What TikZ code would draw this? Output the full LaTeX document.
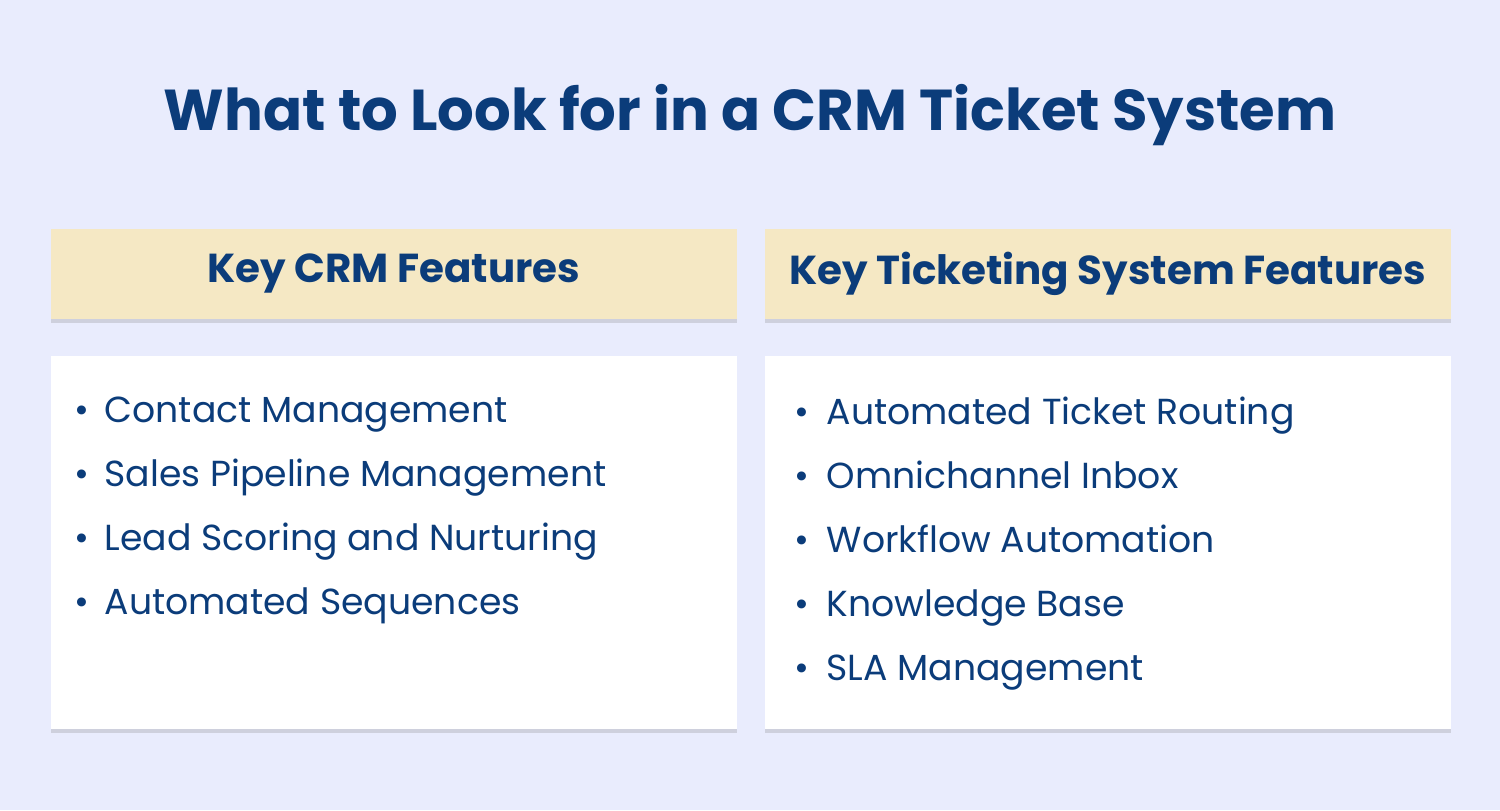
\documentclass[tikz,border=0pt]{standalone}
\usepackage{fontspec}
\setmainfont{Poppins}
\usetikzlibrary{shadows,positioning}
\definecolor{bgcol}{HTML}{E9ECFD}
\definecolor{navy}{HTML}{0B3C7A}
\definecolor{headcol}{HTML}{F5E8C4}
\tikzset{
  headbox/.style={fill=headcol, minimum width=6.86cm, minimum height=0.9cm, anchor=north west,
    drop shadow={shadow xshift=0pt, shadow yshift=-0.4mm, opacity=0.25}},
  listbox/.style={fill=white, minimum width=6.86cm, minimum height=3.73cm, anchor=north west,
    drop shadow={shadow xshift=0pt, shadow yshift=-0.4mm, opacity=0.25}},
  item/.style={text=navy, font=\fontsize{10.3}{12}\selectfont, anchor=west, inner sep=0pt,
    text height=1.6ex, text depth=0.45ex}
}
\begin{document}
\begin{tikzpicture}
\fill[bgcol] (0,0) rectangle (15,8.1);
\useasboundingbox (0,0) rectangle (15,8.1);
\node[text=navy, font=\fontsize{16.4}{19}\selectfont\bfseries] (title) at (7.5,6.95) {What to Look for in a CRM Ticket System};
% headers
\node[headbox] (crmhead) at (0.5,5.82) {};
\node[text=navy, font=\fontsize{11.5}{14}\selectfont\bfseries] at (crmhead) {Key CRM Features};
\node[headbox] (tickhead) at (7.64,5.82) {};
\node[text=navy, font=\fontsize{11.5}{14}\selectfont\bfseries] at (tickhead) {Key Ticketing System Features};
% lists
\node[listbox] (crmlist) at (0.5,4.55) {};
\node[listbox] (ticklist) at (7.64,4.55) {};
\foreach \txt [count=\i] in {Contact Management, Sales Pipeline Management, Lead Scoring and Nurturing, Automated Sequences}{
  \node[item] (crm\i) at (0.74,{3.99-(\i-1)*0.64}) {\makebox[0.3cm][l]{•}\txt};
}
\foreach \txt [count=\i] in {Automated Ticket Routing, Omnichannel Inbox, Workflow Automation, Knowledge Base, SLA Management}{
  \node[item] (tick\i) at (7.94,{3.97-(\i-1)*0.64}) {\makebox[0.32cm][l]{•}\txt};
}
\end{tikzpicture}
\end{document}
